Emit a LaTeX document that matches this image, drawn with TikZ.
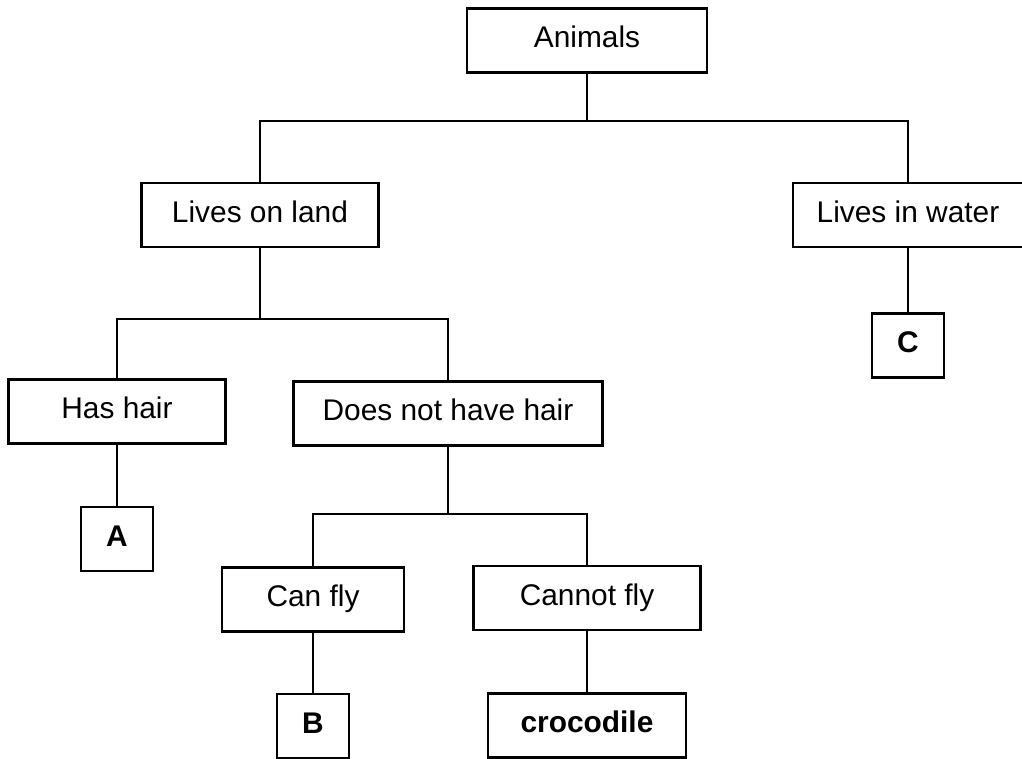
\documentclass[tikz,border=0pt]{standalone}
\usepackage{fontspec}
\setmainfont{Liberation Sans}
\usetikzlibrary{positioning}
\tikzset{
  cat/.style={rectangle,draw=black,line width=1.5pt,fill=white,
              minimum width=#1,minimum height=1.28cm,inner sep=0pt,
              text height=0.43cm,text depth=0.14cm,
              font=\fontsize{17}{20}\selectfont},
  cat/.default=4cm,
  leaf/.style={cat=#1,font=\fontsize{17}{20}\selectfont\bfseries},
  leaf/.default=1.44cm,
  link/.style={line width=1.1pt,black},
}
\begin{document}
\begin{tikzpicture}[x=0.02cm,y=-0.02cm]
    \useasboundingbox (0,0) rectangle (1022,759);

    \node[cat=4.8cm]   (animals) at (587,40.5)  {Animals};
    \node[cat=4.74cm]  (land)    at (260,215)   {Lives on land};
    \node[cat=4.6cm]   (water)   at (908,215)   {Lives in water};
    \node[leaf]        (c)       at (908,345.5) {C};
    \node[cat=4.34cm]  (hair)    at (117,411.5) {Has hair};
    \node[cat=6.18cm]  (nohair)  at (448,413.5) {Does not have hair};
    \node[leaf]        (a)       at (117,539)   {A};
    \node[cat=3.64cm]  (fly)     at (313,599.5) {Can fly};
    \node[cat=4.54cm]  (nofly)   at (587,598)   {Cannot fly};
    \node[leaf]        (b)       at (313,726)   {B};
    \node[leaf=3.96cm] (croc)    at (587,725.5) {crocodile};

    % branches with a shared bar
    \foreach \p/\c/\d in {animals/land/47,animals/water/47,land/hair/71,
                          land/nohair/71,nohair/fly/67,nohair/nofly/67}
      \draw[link] (\p.south) -- ++(0,\d) -| (\c.north);

    % single children
    \foreach \p/\c in {water/c,hair/a,fly/b,nofly/croc}
      \draw[link] (\p.south) -- (\c.north);

  \end{tikzpicture}
\end{document}
